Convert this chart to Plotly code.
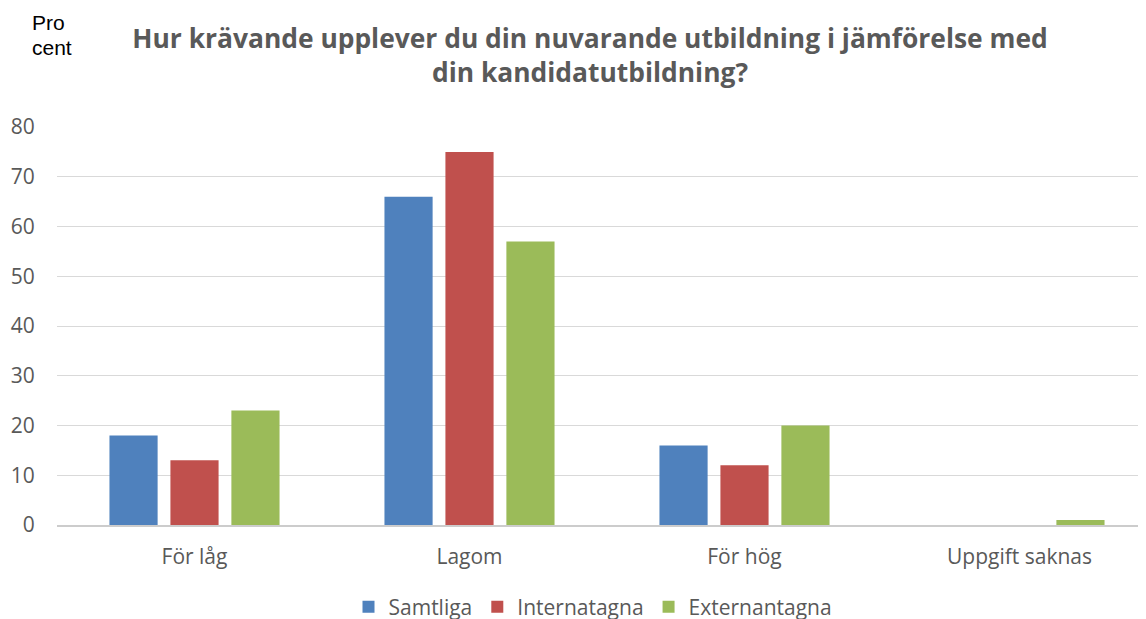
import plotly.graph_objects as go

categories = ["För låg", "Lagom", "För hög", "Uppgift saknas"]
samtliga = [18, 66, 16, 0]
internatagna = [13, 75, 12, 0]
externantagna = [23, 57, 20, 1]
series_names = ["Samtliga", "Internatagna", "Externantagna"]
colors = ["#4F81BD", "#C0504D", "#9BBB59"]
y_ticks = [0, 10, 20, 30, 40, 50, 60, 70, 80]

# page body has an 8px margin; figure sized to fit the window
OFF = 8
W, H = 1146 - OFF, 619 - OFF
L, R, T, B = 57 - OFF, 0, 127 - OFF, 94
PW, PH = W - L - R, H - T - B

fig = go.Figure()
for name, vals, col in zip(series_names, [samtliga, internatagna, externantagna], colors):
    fig.add_trace(go.Bar(x=categories, y=vals, name=name, marker=dict(color=col, line=dict(width=0))))

fig.update_layout(
    width=W, height=H,
    margin=dict(l=L, r=R, t=T, b=B, autoexpand=False),
    paper_bgcolor="white", plot_bgcolor="white",
    barmode="group", bargap=0.335, bargroupgap=0.21,
    font=dict(family="Open Sans, Liberation Sans, sans-serif", color="#595959", size=18),
    title=dict(
        text="<b>Hur krävande upplever du din nuvarande utbildning i jämförelse med<br>din kandidatutbildning?</b>",
        x=582 / W, xanchor="center", xref="container", y=0.935, yanchor="top", yref="container",
        font=dict(family="Open Sans, sans-serif", size=26.4, color="#595959"),
    ),
    xaxis=dict(
        range=[-0.5, 3.46], showgrid=False, showline=True, linecolor="#cccccc", linewidth=1.5,
        ticks="outside", ticklen=12, tickcolor="rgba(0,0,0,0)", automargin=False,
        tickfont=dict(size=21, color="#595959"),
    ),
    yaxis=dict(
        range=[0, 80], tickvals=y_ticks, showgrid=True, gridcolor="#d9d9d9", gridwidth=1,
        zeroline=False, ticks="outside", ticklen=17, tickcolor="rgba(0,0,0,0)", automargin=False,
        tickfont=dict(size=21, color="#595959"),
    ),
    legend=dict(
        orientation="h", x=585 / W, xanchor="center", xref="container",
        y=1 - 599 / H, yanchor="middle", yref="container",
        font=dict(size=21, color="#595959"), itemwidth=30, traceorder="normal",
    ),
    annotations=[
        dict(text="Pro", x=(22 - L) / PW, y=1 + (T - 15) / PH, xref="paper", yref="paper",
             showarrow=False, xanchor="left", yanchor="middle", align="left",
             font=dict(family="Liberation Sans, Arial, sans-serif", size=21, color="#000000")),
        dict(text="cent", x=(22 - L) / PW, y=1 + (T - 40) / PH, xref="paper", yref="paper",
             showarrow=False, xanchor="left", yanchor="middle", align="left",
             font=dict(family="Liberation Sans, Arial, sans-serif", size=21, color="#000000")),
    ],
)

fig.write_html("out.html")
